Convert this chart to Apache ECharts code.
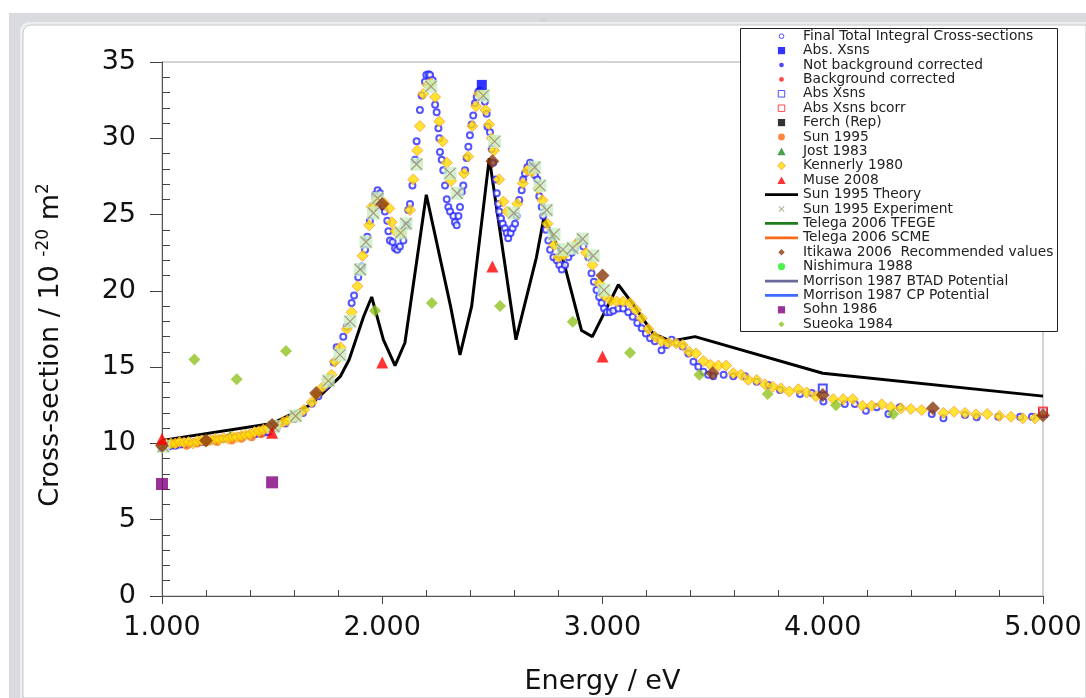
<!DOCTYPE html>
<html>
<head>
<meta charset="utf-8">
<script src="https://cdn.jsdelivr.net/npm/echarts@6/dist/echarts.min.js"></script>
<style>html,body{margin:0;padding:0;background:#fff;}#c{width:1086px;height:698px;}</style>
</head>
<body>
<div id="c"></div>
<script>
// ---------------- data ----------------
const xTicks = [1, 2, 3, 4, 5];
const yTicks = [0, 5, 10, 15, 20, 25, 30, 35];

const finalTotal = [
 [1.00,9.7],[1.03,9.8],[1.06,9.85],[1.09,9.95],[1.12,10.0],[1.15,10.05],[1.18,10.1],[1.21,10.15],[1.24,10.25],[1.27,10.3],
 [1.30,10.35],[1.33,10.4],[1.36,10.5],[1.39,10.55],[1.42,10.6],[1.45,10.65],[1.48,10.75],[1.52,11.0],[1.56,11.3],[1.60,11.6],
 [1.64,12.0],[1.68,12.6],[1.71,13.1],[1.74,13.7],[1.76,14.3],[1.78,15.3],[1.793,16.3],[1.823,17.0],[1.839,17.65],[1.861,19.2],
 [1.872,19.7],[1.891,20.9],[1.907,21.6],[1.922,22.7],[1.932,23.55],[1.944,24.6],[1.957,25.5],[1.967,26.3],[1.979,26.6],[1.99,26.4],
 [2.005,25.5],[2.012,25.2],[2.023,24.6],[2.028,23.9],[2.035,23.3],[2.047,23.2],[2.058,22.8],[2.068,22.7],[2.08,22.9],[2.096,23.3],
 [2.111,24.3],[2.118,25.3],[2.126,25.7],[2.137,26.9],[2.149,28.6],[2.156,29.8],[2.171,31.85],[2.179,32.8],[2.194,33.7],[2.20,34.15],
 [2.21,34.2],[2.217,34.15],[2.229,33.8],[2.24,32.2],[2.247,31.7],[2.255,30.65],[2.259,30.0],[2.262,29.1],[2.27,28.6],[2.277,27.9],
 [2.285,26.9],[2.293,26.0],[2.30,25.5],[2.308,25.2],[2.323,24.9],[2.33,24.5],[2.338,24.3],[2.346,24.9],[2.353,25.5],[2.361,26.5],
 [2.368,26.9],[2.376,27.9],[2.383,28.7],[2.391,29.45],[2.398,30.2],[2.406,30.9],[2.413,31.5],[2.421,32.3],[2.429,32.7],[2.436,33.05],
 [2.444,33.1],[2.452,32.95],[2.466,32.4],[2.474,31.6],[2.478,30.76],[2.489,30.4],[2.497,29.3],[2.504,28.4],[2.516,27.3],[2.52,26.4],
 [2.527,25.7],[2.531,25.2],[2.539,24.75],[2.547,24.4],[2.557,24.1],[2.565,23.8],[2.572,23.45],[2.583,23.8],[2.592,24.1],[2.603,24.4],
 [2.61,24.9],[2.622,25.95],[2.633,26.6],[2.64,27.3],[2.648,27.7],[2.659,28.1],[2.671,28.4],[2.683,28.1],[2.693,27.6],[2.704,27.3],
 [2.713,26.2],[2.724,25.5],[2.731,24.9],[2.743,24.0],[2.754,23.3],[2.762,22.7],[2.777,22.2],[2.792,22.0],[2.804,21.7],[2.815,21.4],
 [2.83,21.7],[2.845,22.2],[2.86,22.5],[2.875,22.8],[2.89,23.2],[2.913,22.9],[2.936,22.2],[2.95,21.15],[2.961,20.6],[2.973,20.05],
 [2.985,19.6],[2.996,19.2],[3.007,18.85],[3.019,18.6],[3.034,18.6],[3.049,18.7],[3.072,18.85],[3.094,18.85],[3.117,18.6],[3.137,18.3],
 [3.158,17.9],[3.178,17.55],[3.197,17.2],[3.216,16.9],[3.238,16.7],[3.268,16.1],[3.291,16.45],[3.314,16.8],[3.337,16.6],[3.364,16.35],
 [3.39,15.9],[3.413,15.36],[3.435,15.03],[3.458,14.7],[3.48,14.5],[3.503,14.4],[3.55,14.5],[3.594,14.4],[3.647,14.4],[3.70,14.05],
 [3.753,13.83],[3.806,13.5],[3.897,13.24],[3.95,13.3],[4.003,12.74],[4.10,12.58],[4.146,12.58],[4.196,12.15],[4.245,12.37],[4.298,11.93],
 [4.35,12.37],[4.495,11.93],[4.548,11.65],[4.646,11.86],[4.699,11.71],[4.797,11.75],[4.896,11.75],[4.95,11.75]
];

const kennerly1980 = [
 [1.00,9.9],[1.02,9.95],[1.04,10.0],[1.06,10.0],[1.08,10.1],[1.10,10.05],[1.12,10.1],[1.14,10.0],[1.16,10.15],[1.18,10.2],
 [1.20,10.15],[1.22,10.2],[1.24,10.3],[1.26,10.25],[1.28,10.35],[1.30,10.3],[1.32,10.45],[1.34,10.4],[1.36,10.5],[1.38,10.55],
 [1.40,10.6],[1.42,10.75],[1.44,10.8],[1.46,10.9],[1.48,11.0],[1.52,11.15],[1.55,11.4],[1.57,11.5],[1.60,11.7],[1.62,11.9],
 [1.645,12.2],[1.68,12.7],[1.70,13.2],[1.73,13.7],[1.75,14.16],[1.77,14.5],[1.785,15.36],[1.81,16.3],[1.839,17.5],[1.861,18.6],
 [1.887,20.3],[1.911,22.3],[1.941,24.3],[1.952,25.5],[1.975,26.0],[2.005,25.8],[2.032,25.4],[2.043,24.5],[2.06,23.9],[2.085,23.8],
 [2.126,25.3],[2.141,27.3],[2.159,29.2],[2.171,30.8],[2.186,32.9],[2.205,33.5],[2.22,33.6],[2.24,32.7],[2.259,31.1],[2.274,29.8],
 [2.293,28.4],[2.312,27.2],[2.371,27.7],[2.39,28.8],[2.409,30.8],[2.426,32.1],[2.44,32.9],[2.452,32.95],[2.469,31.85],[2.485,30.9],
 [2.497,30.0],[2.507,29.2],[2.531,27.3],[2.55,25.85],[2.568,25.2],[2.613,25.7],[2.638,27.05],[2.659,27.9],[2.679,27.8],[2.709,26.7],
 [2.727,25.95],[2.75,24.4],[2.78,23.0],[2.80,22.2],[2.825,22.35],[2.883,23.1],[2.925,22.5],[2.954,21.7],[2.985,20.5],[3.008,19.7],
 [3.037,19.36],[3.064,19.3],[3.094,19.3],[3.125,19.2],[3.152,18.75],[3.178,18.2],[3.208,17.5],[3.238,17.0],[3.268,16.7],[3.30,16.6],
 [3.334,16.56],[3.364,16.45],[3.394,16.0],[3.425,15.9],[3.458,15.4],[3.491,15.15],[3.526,15.1],[3.561,15.1],[3.594,14.6],[3.629,14.5],
 [3.662,14.16],[3.70,14.16],[3.738,13.87],[3.773,13.72],[3.81,13.6],[3.848,13.4],[3.889,13.55],[3.927,13.33],[3.969,13.1],[4.048,12.9],
 [4.093,12.9],[4.136,12.9],[4.18,12.47],[4.222,12.47],[4.268,12.56],[4.31,12.37],[4.355,12.3],[4.40,12.26],[4.449,12.19],[4.548,12.0],
 [4.596,12.08],[4.646,12.0],[4.696,11.9],[4.747,11.93],[4.802,11.8],[4.855,11.75],[4.908,11.65],[4.964,11.65]
];

const sun1995Experiment = [
 [1.006,9.79],[1.508,11.1],[1.607,11.8],[1.755,14.1],[1.808,15.8],[1.854,18.0],[1.90,21.4],[1.926,23.2],[1.96,25.1],[1.979,26.07],
 [2.084,23.8],[2.108,24.4],[2.156,28.3],[2.221,33.4],[2.308,27.7],[2.34,26.4],[2.459,32.8],[2.51,29.8],[2.597,25.1],[2.692,28.1],
 [2.716,26.9],[2.747,25.3],[2.78,23.7],[2.82,22.7],[2.865,22.8],[2.91,23.4],[2.958,22.3],[3.007,20.05]
];

const sun1995Theory = [
 [1.0,10.2],[1.5,11.3],[1.67,12.5],[1.73,13.3],[1.81,14.4],[1.85,15.5],[1.915,18.3],[1.952,19.6],[2.005,16.8],[2.058,15.1],
 [2.103,16.6],[2.20,26.3],[2.31,19.0],[2.353,15.8],[2.406,19.0],[2.486,28.7],[2.607,16.8],[2.70,22.2],[2.734,24.8],[2.784,23.3],
 [2.822,22.0],[2.905,17.4],[2.954,17.0],[3.072,20.4],[3.14,19.1],[3.23,17.2],[3.31,16.7],[3.42,17.0],[4.0,14.6],[5.0,13.1]
];

const itikawa2006 = [[1.0,9.85],[1.2,10.2],[1.5,11.2],[1.7,13.3],[2.0,25.7],[2.5,28.5],[3.0,21.0],[3.5,14.6],[4.0,13.17],[4.5,12.3],[5.0,11.85]];
const sueoka1984 = [[1.147,15.5],[1.339,14.2],[1.563,16.06],[1.967,18.7],[2.225,19.2],[2.535,19.0],[2.865,17.98],[3.125,15.95],[3.44,14.5],[3.75,13.24],[4.06,12.5],[4.32,11.93]];
const muse2008 = [[1.0,10.3],[1.5,10.7],[2.0,15.3],[2.5,21.6],[3.0,15.7]];
const sohn1986 = [[1.0,7.34],[1.5,7.45]];
const absXsnsFilled = [[2.452,33.5]];
const absXsnsOpen = [[4.0,13.6],[5.0,12.0]];
const absXsnsBcorr = [[5.0,12.1]];
const sun1995 = [[1.02,9.9],[1.06,9.95],[1.112,9.85],[1.16,10.0],[1.2,10.1],[1.25,10.1],[1.316,10.2],[1.36,10.3],[1.407,10.4],[1.45,10.6]];
const jost1983 = [[1.2,10.5],[1.31,10.7]];
const morrisonCP = [[1.0,9.6],[1.2,9.95],[1.5,10.6]];
const morrisonBTAD = [[1.0,9.7],[1.2,10.0],[1.5,10.65]];

const legendNames = [
 'Final Total Integral Cross-sections','Abs. Xsns','Not background corrected','Background corrected','Abs Xsns',
 'Abs Xsns bcorr','Ferch (Rep)','Sun 1995','Jost 1983','Kennerly 1980','Muse 2008','Sun 1995 Theory',
 'Sun 1995 Experiment','Telega 2006 TFEGE','Telega 2006 SCME','Itikawa 2006  Recommended values','Nishimura 1988',
 'Morrison 1987 BTAD Potential','Morrison 1987 CP Potential','Sohn 1986','Sueoka 1984'
];

// ---------------- chart ----------------
const chart = echarts.init(document.getElementById('c'), null, {renderer: 'canvas'});
const FONT = 'DejaVu Sans';

// legend icon shapes (unit box 0..10, invisible moves keep the box)
const BOX = 'M0,0M10,10';
const IC = {
  circle: (r) => 'path://' + BOX + 'M' + (5 - r) + ',5A' + r + ',' + r + ' 0 1 1 ' + (5 + r) + ',5A' + r + ',' + r + ' 0 1 1 ' + (5 - r) + ',5Z',
  square: (h) => 'path://' + BOX + 'M' + (5 - h) + ',' + (5 - h) + 'L' + (5 + h) + ',' + (5 - h) + 'L' + (5 + h) + ',' + (5 + h) + 'L' + (5 - h) + ',' + (5 + h) + 'Z',
  diamond: (h) => 'path://' + BOX + 'M5,' + (5 - h) + 'L' + (5 + h) + ',5L5,' + (5 + h) + 'L' + (5 - h) + ',5Z',
  triangle: 'path://' + BOX + 'M5,0.8L9.6,9.2L0.4,9.2Z',
  line: 'path://M0,0L36,0L36,3L0,3Z'
};
const legendStyles = {
  'Final Total Integral Cross-sections': {icon: IC.circle(2.6), itemStyle: {color: 'rgba(0,0,0,0)', borderColor: '#2b2bff', borderWidth: 1}},
  'Abs. Xsns': {icon: IC.square(4), itemStyle: {color: '#0000ff', borderWidth: 0}},
  'Not background corrected': {icon: IC.circle(2.6), itemStyle: {color: '#1a1aff', borderWidth: 0}},
  'Background corrected': {icon: IC.circle(2.6), itemStyle: {color: '#ff1a1a', borderWidth: 0}},
  'Abs Xsns': {icon: IC.square(3.6), itemStyle: {color: 'rgba(0,0,0,0)', borderColor: '#2222ff', borderWidth: 1}},
  'Abs Xsns bcorr': {icon: IC.square(3.6), itemStyle: {color: 'rgba(0,0,0,0)', borderColor: '#ff2222', borderWidth: 1}},
  'Ferch (Rep)': {icon: IC.square(4), itemStyle: {color: '#000', borderWidth: 0}},
  'Sun 1995': {icon: IC.circle(3.8), itemStyle: {color: '#ff6a10', borderWidth: 0}},
  'Jost 1983': {icon: IC.triangle, itemStyle: {color: '#1a8a1a', borderWidth: 0}},
  'Kennerly 1980': {icon: IC.diamond(4.4), itemStyle: {color: '#ffdd00', borderColor: '#ff9a30', borderWidth: 1}},
  'Muse 2008': {icon: IC.triangle, itemStyle: {color: '#ff0000', borderWidth: 0}},
  'Sun 1995 Theory': {icon: IC.line, itemStyle: {color: '#000', borderWidth: 0}},
  'Sun 1995 Experiment': {icon: 'path://' + BOX + 'M2,2L8,8M8,2L2,8', itemStyle: {color: 'rgba(0,0,0,0)', borderColor: '#9aa88a', borderWidth: 1.2}},
  'Telega 2006 TFEGE': {icon: IC.line, itemStyle: {color: '#1a7f1a', borderWidth: 0}},
  'Telega 2006 SCME': {icon: IC.line, itemStyle: {color: '#ff6a1a', borderWidth: 0}},
  'Itikawa 2006  Recommended values': {icon: IC.diamond(3.6), itemStyle: {color: '#8b3a0c', borderWidth: 0}},
  'Nishimura 1988': {icon: IC.circle(4), itemStyle: {color: '#22ee22', borderWidth: 0}},
  'Morrison 1987 BTAD Potential': {icon: IC.line, itemStyle: {color: '#6a6a9a', borderWidth: 0}},
  'Morrison 1987 CP Potential': {icon: IC.line, itemStyle: {color: '#3b6cff', borderWidth: 0}},
  'Sohn 1986': {icon: IC.square(4), itemStyle: {color: '#800080', borderWidth: 0}},
  'Sueoka 1984': {icon: IC.diamond(3.4), itemStyle: {color: '#8fc31f', borderWidth: 0}}
};
const legendData = legendNames.map(n => Object.assign({name: n}, legendStyles[n]));

function sc(name, data, symbol, size, color, extra) {
  return Object.assign({
    name, type: 'scatter', data, symbol, symbolSize: size,
    itemStyle: {color}, z: 3, silent: true, animation: false
  }, extra || {});
}
function ln(name, data, color, width, z) {
  return {name, type: 'line', data, symbol: 'none', showSymbol: false, z: z || 2,
    lineStyle: {color, width}, itemStyle: {color}, animation: false, silent: true};
}

const option = {
  backgroundColor: '#fff',
  animation: false,
  textStyle: {fontFamily: FONT},
  graphic: [
    {type: 'rect', z: 0, shape: {x: 9, y: 13, width: 1077, height: 685}, style: {fill: '#d9dbde'}},
    {type: 'rect', z: 0, shape: {x: 20, y: 22, width: 1066, height: 676, r: [9, 0, 0, 0]}, style: {fill: '#eceef0'}},
    {type: 'rect', z: 0, shape: {x: 23, y: 25, width: 1063, height: 673, r: [8, 0, 0, 0]}, style: {fill: '#fff', stroke: '#c4c6c9', lineWidth: 1}},
    {type: 'text', z: 0, style: {x: 543, y: 19, text: '::::', fill: '#a0a0a0', font: '6px sans-serif', align: 'center', verticalAlign: 'middle'}},
    {type: 'rect', z: 3, shape: {x: 740.5, y: 28.5, width: 317, height: 303}, style: {fill: '#fff', stroke: '#222', lineWidth: 1}}
  ],
  grid: {left: 162, right: 43, top: 62, bottom: 102, show: true, borderColor: '#a8a8a8', borderWidth: 1, z: 1, outerBoundsMode: 'none'},
  legend: {
    data: legendData, orient: 'vertical', left: 765, top: 29, padding: 0,
    itemWidth: 33, itemHeight: 9, itemGap: 0, z: 5, symbolKeepAspect: true,
    textStyle: {fontFamily: FONT, fontSize: 13.8, color: '#222', lineHeight: 14.4},
    selectedMode: false
  },
  xAxis: {
    type: 'value', min: 1, max: 5, interval: 1, z: 2,
    name: 'Energy / eV', nameLocation: 'middle', nameGap: 72, nameMoveOverlap: false,
    nameTextStyle: {fontFamily: FONT, fontSize: 27, color: '#111'},
    axisLine: {show: true, onZero: false, lineStyle: {color: '#555', width: 1}},
    axisTick: {show: true, length: 8, lineStyle: {color: '#444'}},
    minorTick: {show: true, splitNumber: 5, length: -6, lineStyle: {color: '#444'}},
    splitLine: {show: false},
    axisLabel: {fontFamily: FONT, fontSize: 27, color: '#111', margin: 18,
      formatter: v => xTicks.includes(v) ? v.toFixed(3) : ''}
  },
  yAxis: {
    type: 'value', min: 0, max: 35, interval: 5, z: 2,
    name: '{a|Cross-section / 10 }{s|-20}{a| m}{s|2}', nameLocation: 'middle', nameGap: 95, nameMoveOverlap: false,
    nameTextStyle: {fontFamily: FONT, fontSize: 27, color: '#111', padding: [0, 32, 0, 0],
      rich: {a: {fontFamily: FONT, fontSize: 27, color: '#111', lineHeight: 32},
             s: {fontFamily: FONT, fontSize: 17, color: '#111', lineHeight: 17, verticalAlign: 'top'}}},
    axisLine: {show: true, onZero: false, lineStyle: {color: '#555', width: 1}},
    axisTick: {show: true, length: 12, lineStyle: {color: '#444'}},
    minorTick: {show: true, splitNumber: 5, length: -8, lineStyle: {color: '#444'}},
    splitLine: {show: false},
    axisLabel: {fontFamily: FONT, fontSize: 27, color: '#111', margin: 26,
      formatter: v => yTicks.includes(v) ? String(v) : ''}
  },
  series: [
    ln('Morrison 1987 BTAD Potential', morrisonBTAD, '#6a6a9a', 2, 2),
    ln('Morrison 1987 CP Potential', morrisonCP, '#3b6cff', 2, 2),
    ln('Telega 2006 TFEGE', [], '#1a7f1a', 2.5, 2),
    ln('Telega 2006 SCME', [], '#ff6a1a', 2.5, 2),
    sc('Final Total Integral Cross-sections', finalTotal, 'emptyCircle', 6, '#2b2bff', {itemStyle: {color: '#2b2bff', borderWidth: 1}}),
    sc('Sun 1995', sun1995, 'circle', 8, '#ff6a10'),
    sc('Jost 1983', jost1983, 'triangle', 5, '#1a8a1a'),
    ln('Sun 1995 Theory', sun1995Theory, '#000', 3, 3),
    sc('Kennerly 1980', kennerly1980, 'diamond', 11, '#ffdd00', {itemStyle: {color: '#ffdd00', borderColor: '#ff9a30', borderWidth: 1}, z: 4}),
    sc('Sun 1995 Experiment bg', sun1995Experiment, 'rect', 13, '#c8efc8', {z: 4}),
    sc('Sun 1995 Experiment', sun1995Experiment, 'path://M0,0L10,10M10,0L0,10', 11, '#a08466',
      {itemStyle: {color: 'transparent', borderColor: '#a08466', borderWidth: 1.2}, z: 4}),
    sc('Itikawa 2006  Recommended values', itikawa2006, 'diamond', 14, '#8b3a0c', {z: 5}),
    sc('Sueoka 1984', sueoka1984, 'diamond', 12, '#8fc31f', {z: 5}),
    sc('Muse 2008', muse2008, 'triangle', 12, '#ff0000', {z: 5}),
    sc('Sohn 1986', sohn1986, 'rect', 12, '#800080', {z: 5}),
    sc('Abs. Xsns', absXsnsFilled, 'rect', 10, '#0000ff', {z: 5}),
    sc('Abs Xsns', absXsnsOpen, 'emptyRect', 8, '#2222ff', {z: 3}),
    sc('Abs Xsns bcorr', absXsnsBcorr, 'emptyRect', 8, '#ff2222', {z: 3}),
    sc('Not background corrected', [], 'circle', 6, '#1a1aff'),
    sc('Background corrected', [], 'circle', 6, '#ff1a1a'),
    sc('Ferch (Rep)', [], 'rect', 8, '#000'),
    sc('Nishimura 1988', [], 'circle', 8, '#22ee22')
  ]
};
chart.setOption(option);
</script>
</body>
</html>
